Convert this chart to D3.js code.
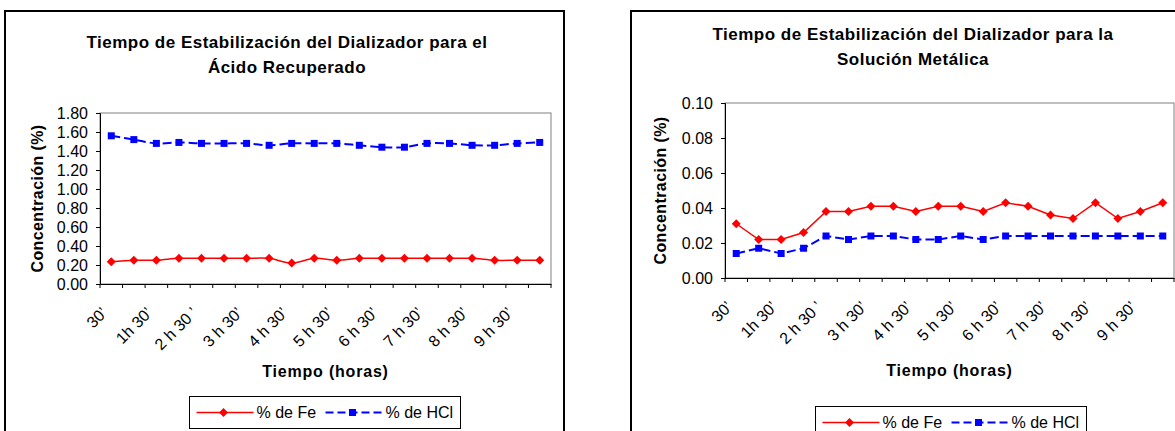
<!DOCTYPE html>
<html>
<head>
<meta charset="utf-8">
<script src="https://cdn.jsdelivr.net/npm/d3@7"></script>
<style>
  body { margin: 0; background: #fff; }
  svg { display: block; font-family: "Liberation Sans", Arial, sans-serif; }
</style>
</head>
<body>
<div id="charts"></div>
<script>
// Time categories every 30 minutes (only every other one gets a label)
const categories = ["30’", "1h", "1h 30’", "2 h", "2 h 30 ’", "3 h", "3 h 30’", "4 h",
  "4 h 30’", "5 h", "5 h 30’", "6 h", "6 h 30’", "7 h", "7 h 30’", "8 h", "8 h 30’",
  "9 h", "9 h 30’", "10 h"];

// Ácido recuperado
const acidoFe = [0.235, 0.25, 0.25, 0.27, 0.27, 0.27, 0.27, 0.27, 0.22, 0.27,
  0.25, 0.27, 0.27, 0.27, 0.27, 0.27, 0.27, 0.25, 0.25, 0.25];
const acidoHCl = [1.56, 1.52, 1.48, 1.49, 1.48, 1.48, 1.48, 1.46, 1.48, 1.48,
  1.48, 1.46, 1.44, 1.44, 1.48, 1.48, 1.46, 1.46, 1.48, 1.49];
const acidoTicks = [0, 0.2, 0.4, 0.6, 0.8, 1.0, 1.2, 1.4, 1.6, 1.8];

// Solución metálica
const metalFe = [0.031, 0.022, 0.022, 0.026, 0.038, 0.038, 0.041, 0.041, 0.038, 0.041,
  0.041, 0.038, 0.043, 0.041, 0.036, 0.034, 0.043, 0.034, 0.038, 0.043];
const metalHCl = [0.014, 0.017, 0.014, 0.017, 0.024, 0.022, 0.024, 0.024, 0.022, 0.022,
  0.024, 0.022, 0.024, 0.024, 0.024, 0.024, 0.024, 0.024, 0.024, 0.024];
const metalTicks = [0, 0.02, 0.04, 0.06, 0.08, 0.10];

const seriesNames = ["% de Fe", "% de HCl"];

const svg = d3.select("#charts").append("svg")
  .attr("width", 1175)
  .attr("height", 431);

// diamond / square marker paths
function marker(type) {
  if (type === "diamond") return "M0,-4.5L4.5,0L0,4.5L-4.5,0Z";
  return "M-3.5,-3.5H3.5V3.5H-3.5Z";
}

function drawChart(cfg) {
  const g = svg.append("g");

  // outer chart frame
  g.append("rect")
    .attr("x", cfg.frame[0]).attr("y", cfg.frame[1])
    .attr("width", cfg.frame[2]).attr("height", cfg.frame[3])
    .attr("fill", "none").attr("stroke", "#000").attr("stroke-width", 2);

  // title (two lines)
  g.append("text")
    .attr("x", cfg.titleX).attr("y", cfg.titleY)
    .attr("text-anchor", "middle")
    .style("font-size", "17px").style("font-weight", "bold")
    .style("letter-spacing", "0.5px")
    .selectAll("tspan").data(cfg.title).enter().append("tspan")
      .attr("x", cfg.titleX)
      .attr("dy", (d, i) => i ? 25 : 0)
      .text(d => d);

  const x = d3.scaleBand()
    .domain(categories)
    .range([cfg.plot.left, cfg.plot.right])
    .padding(0);

  const y = d3.scaleLinear()
    .domain([0, d3.max(cfg.ticks)])
    .range([cfg.plot.bottom, cfg.plot.top]);

  // plot area border
  g.append("rect")
    .attr("x", cfg.plot.left).attr("y", cfg.plot.top)
    .attr("width", cfg.plot.right - cfg.plot.left)
    .attr("height", cfg.plot.bottom - cfg.plot.top)
    .attr("fill", "#fff").attr("stroke", "#808080").attr("stroke-width", 1);

  // Y axis
  const yAxis = g.append("g")
    .attr("transform", "translate(" + cfg.plot.left + ",0)")
    .call(d3.axisLeft(y).tickValues(cfg.ticks).tickSize(4).tickPadding(8)
      .tickFormat(d3.format(".2f")));
  yAxis.selectAll("text")
    .style("font-size", "16px")
    .style("font-family", "'Liberation Sans', Arial, sans-serif")
    .attr("fill", "#000");
  yAxis.selectAll("line, path").attr("stroke", "#000");

  // X axis: labels at every other category, ticks at band edges
  const xAxis = g.append("g")
    .attr("transform", "translate(0," + cfg.plot.bottom + ")")
    .call(d3.axisBottom(x).tickSize(0)
      .tickFormat((d, i) => i % 2 === 0 ? d : ""));
  xAxis.select(".domain").attr("stroke", "#000");
  xAxis.selectAll("text")
    .attr("x", 0).attr("y", 0).attr("dy", "0.35em")
    .attr("transform", "translate(-7,26) rotate(-45)")
    .style("text-anchor", "end")
    .style("font-size", "16px")
    .style("font-family", "'Liberation Sans', Arial, sans-serif")
    .attr("fill", "#000");
  xAxis.selectAll(".edge")
    .data(categories.map(c => x(c)).concat([x.range()[1]]))
    .enter().append("line")
      .attr("class", "edge")
      .attr("x1", d => d).attr("x2", d => d)
      .attr("y1", 0).attr("y2", 4)
      .attr("stroke", "#000");

  // axis titles
  g.append("text")
    .attr("x", (cfg.plot.left + cfg.plot.right) / 2)
    .attr("y", cfg.xTitleY)
    .attr("text-anchor", "middle")
    .style("font-size", "16px").style("font-weight", "bold")
    .style("letter-spacing", "0.8px")
    .text("Tiempo (horas)");

  g.append("text")
    .attr("transform", "translate(" + cfg.yTitleX + "," + (cfg.plot.top + cfg.plot.bottom) / 2 + ") rotate(-90)")
    .attr("dy", "0.35em")
    .attr("text-anchor", "middle")
    .style("font-size", "16px").style("font-weight", "bold")
    .style("letter-spacing", "0.4px")
    .text("Concentración (%)");

  const line = d3.line()
    .x((d, i) => x(categories[i]) + x.bandwidth() / 2)
    .y(d => y(d))
    .curve(cfg.smooth ? d3.curveCardinal.tension(0) : d3.curveLinear);

  const series = [
    {values: cfg.fe, color: "#ff0000", dash: null, width: 1.5, mark: "diamond"},
    {values: cfg.hcl, color: "#0000ff", dash: "9,4", width: 2, mark: "square"}
  ];

  series.forEach(s => {
    g.append("path")
      .datum(s.values)
      .attr("d", line)
      .attr("fill", "none")
      .attr("stroke", s.color)
      .attr("stroke-width", s.width)
      .attr("stroke-dasharray", s.dash);

    g.selectAll(null)
      .data(s.values)
      .enter().append("path")
        .attr("d", marker(s.mark))
        .attr("transform", (d, i) => "translate(" + (x(categories[i]) + x.bandwidth() / 2) + "," + y(d) + ")")
        .attr("fill", s.color);
  });

  // legend
  const lg = g.append("g")
    .attr("transform", "translate(" + cfg.legend[0] + "," + cfg.legend[1] + ")");
  lg.append("rect")
    .attr("width", 271).attr("height", 32)
    .attr("fill", "#fff").attr("stroke", "#000").attr("stroke-width", 1);

  const offsets = [7, 136];
  series.forEach((s, i) => {
    const ox = offsets[i];
    lg.append("line")
      .attr("x1", ox).attr("x2", ox + 57)
      .attr("y1", 16).attr("y2", 16)
      .attr("stroke", s.color).attr("stroke-width", s.width)
      .attr("stroke-dasharray", s.dash ? "8,4" : null);
    lg.append("path")
      .attr("d", marker(s.mark))
      .attr("transform", "translate(" + (ox + 27) + ",16)")
      .attr("fill", s.color);
    lg.append("text")
      .attr("x", ox + 60).attr("y", 16).attr("dy", "0.35em")
      .style("font-size", "16px")
      .text(seriesNames[i]);
  });
}

drawChart({
  frame: [5, 11, 559, 440],
  title: ["Tiempo de Estabilización del Dializador para el", "Ácido Recuperado"],
  titleX: 287, titleY: 48,
  plot: {left: 100, right: 551, top: 113, bottom: 284},
  ticks: acidoTicks,
  fe: acidoFe, hcl: acidoHCl,
  smooth: true,
  xTitleY: 377, yTitleX: 37,
  legend: [189.5, 396.5]
});

drawChart({
  frame: [631, 11, 565, 440],
  title: ["Tiempo de Estabilización del Dializador para la", "Solución Metálica"],
  titleX: 913, titleY: 40,
  plot: {left: 725, right: 1174, top: 103, bottom: 278},
  ticks: metalTicks,
  fe: metalFe, hcl: metalHCl,
  smooth: false,
  xTitleY: 376, yTitleX: 660,
  legend: [815.5, 406.5]
});
</script>
</body>
</html>
